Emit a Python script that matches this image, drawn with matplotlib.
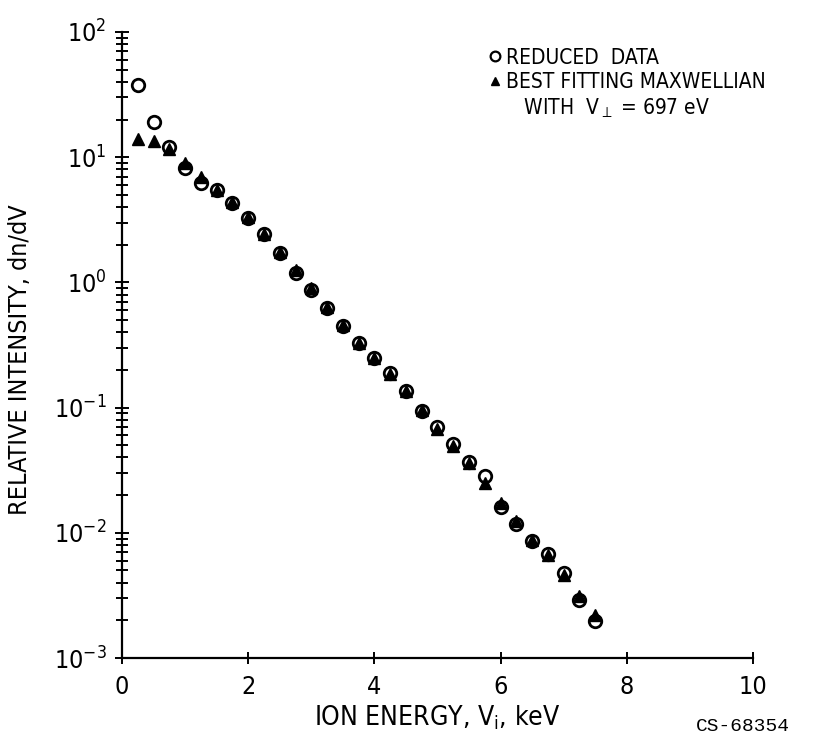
import matplotlib
matplotlib.use("Agg")
import matplotlib.pyplot as plt
from matplotlib.lines import Line2D
from matplotlib.ticker import LogLocator, FixedLocator
import numpy as np

plt.rcParams['font.family'] = ['DejaVu Sans']
plt.rcParams['font.stretch'] = 'condensed'
plt.rcParams['mathtext.default'] = 'regular'

# Ion energy, keV
energy = [0.25, 0.5, 0.75, 1.0, 1.25, 1.5, 1.75, 2.0, 2.25, 2.5,
          2.75, 3.0, 3.25, 3.5, 3.75, 4.0, 4.25, 4.5, 4.75, 5.0,
          5.25, 5.5, 5.75, 6.0, 6.25, 6.5, 6.75, 7.0, 7.25, 7.5]

# Reduced data (open circles)
reduced = [38.0, 19.0, 12.0, 8.2, 6.2, 5.5, 4.3, 3.27, 2.44, 1.72,
           1.19, 0.87, 0.625, 0.45, 0.328, 0.249, 0.189, 0.136, 0.094, 0.070,
           0.051, 0.037, 0.0284, 0.0161, 0.0118, 0.0086, 0.0068, 0.0048, 0.0029, 0.00197]

# Best fitting Maxwellian (filled triangles)
maxwellian = [14.0, 13.4, 11.6, 9.0, 7.0, 5.5, 4.4, 3.35, 2.45, 1.75,
              1.25, 0.90, 0.64, 0.46, 0.33, 0.25, 0.185, 0.135, 0.095, 0.068,
              0.049, 0.036, 0.025, 0.0172, 0.0125, 0.0088, 0.0066, 0.0046, 0.0031, 0.0022]

xticks = [0, 2, 4, 6, 8, 10]

fig = plt.figure(figsize=(8.27, 7.39), dpi=100)
ax = fig.add_axes([0.1475, 0.1096, 0.763, 0.8471])

ax.plot(energy, maxwellian, linestyle='none', marker='^', markersize=8,
        markerfacecolor='black', markeredgecolor='black', zorder=3)
ax.plot(energy, reduced, linestyle='none', marker='o', markersize=9,
        markerfacecolor='none', markeredgecolor='black', markeredgewidth=2.0, zorder=4)

ax.set_yscale('log')
ax.set_ylim(1e-3, 1e2)
ax.set_xlim(0, 10)
ax.xaxis.set_major_locator(FixedLocator(xticks))
ax.yaxis.set_major_locator(LogLocator(base=10, numticks=10))
ax.yaxis.set_minor_locator(LogLocator(base=10, subs=np.arange(2, 10), numticks=20))

for s in ['top', 'right']:
    ax.spines[s].set_visible(False)
for s in ['left', 'bottom']:
    ax.spines[s].set_linewidth(1.6)

ax.tick_params(axis='both', which='both', direction='inout', color='black',
               width=1.4, labelsize=18)
ax.tick_params(axis='y', which='major', length=10, pad=6)
ax.tick_params(axis='y', which='minor', length=9)
ax.tick_params(axis='x', which='major', length=9, pad=8)

ax.set_xlabel(r'ION ENERGY, V$_{\mathregular{i}}$, keV', fontsize=19, labelpad=3)
fig.text(0.024, 0.513, 'RELATIVE INTENSITY, dn/dV', rotation=90,
         fontsize=18, ha='center', va='center')

handles = [
    Line2D([], [], linestyle='none', marker='o', markersize=7,
           markerfacecolor='none', markeredgecolor='black', markeredgewidth=1.6),
    Line2D([], [], linestyle='none', marker='^', markersize=6,
           markerfacecolor='black', markeredgecolor='black'),
    Line2D([], [], linestyle='none'),
]
labels = ['REDUCED  DATA', 'BEST FITTING MAXWELLIAN',
          r'   WITH  V$_{\perp}$ = 697 eV']
leg = ax.legend(handles, labels, loc='upper left', bbox_to_anchor=(0.561, 0.995),
                frameon=False, fontsize=15, handlelength=0.6, handletextpad=0.25,
                labelspacing=0.2, borderaxespad=0.2)

fig.text(0.955, 0.006, 'CS-68354', fontsize=14, family='Liberation Mono',
         ha='right', va='bottom')

fig.savefig('out.png', dpi=100)
